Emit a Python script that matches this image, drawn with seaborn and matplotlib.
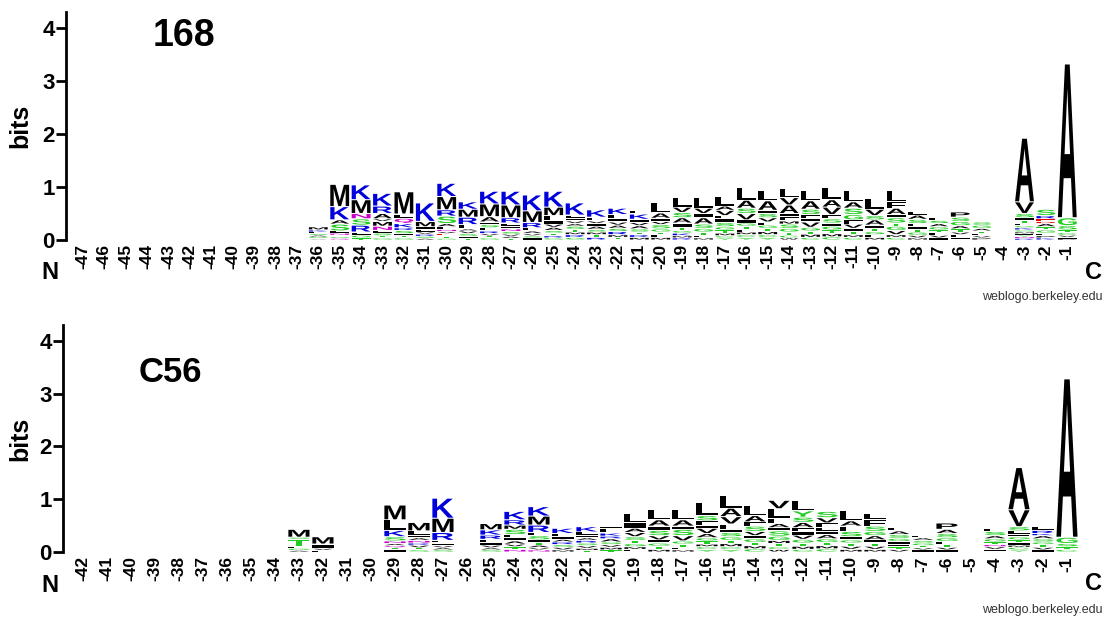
import matplotlib
matplotlib.use("Agg")
import matplotlib.pyplot as plt
import seaborn as sns
from matplotlib.textpath import TextPath
from matplotlib.patches import PathPatch
from matplotlib.font_manager import FontProperties
from matplotlib.transforms import Affine2D

# stacks are written top letter first, "letter + bits"
pos_168 = list(range(-47, 0))
stacks_168 = [""] * 11 + [
    "M.06 K.04 L.03 S.03 A.03 G.03 T.02 V.01",           # -36
    "M.42 K.25 A.08 S.13 L.04 N.04 T.03 G.03 Q.03",      # -35
    "K.28 M.26 N.10 S.12 R.13 L.06 G.05 T.04",           # -34
    "K.24 R.14 A.10 V.05 M.09 N.08 L.05 S.05 T.04 G.04",  # -33
    "M.42 L.08 Q.10 K.08 R.05 S.06 I.04 T.04 G.04",      # -32
    "K.35 M.10 I.05 L.05 V.04 R.04 S.04 A.03",           # -31
    "K.25 M.25 R.12 S.14 A.06 L.05 N.04 V.04 E.03 I.03 T.03 G.03",
    "K.14 M.15 R.14 L.08 A.04 V.05 S.05 I.04 T.03",      # -29
    "K.24 M.24 A.10 I.05 S.06 L.06 R.05 V.04 T.04 G.04",  # -28
    "K.26 M.24 R.10 L.06 I.05 N.05 S.05 V.04 A.04 T.03",  # -27
    "K.30 M.22 R.10 L.06 A.05 V.04 S.04 I.04",           # -26
    "K.30 M.16 L.10 I.06 V.06 A.06 S.05 T.05 R.04 G.04",  # -25
    "K.23 L.06 I.05 V.05 A.05 S.06 T.05 M.05 R.05 G.05",  # -24
    "K.14 L.07 V.05 I.05 A.06 S.05 M.05 T.05 R.05",      # -23
    "K.12 L.08 I.06 V.06 A.06 S.06 R.06 M.05 T.05",      # -22
    "L.06 K.10 I.06 V.06 A.06 S.06 T.05 R.05 M.05",      # -21
    "L.20 A.10 I.06 V.06 S.08 G.06 T.05 F.05 M.05",      # -20
    "L.18 V.10 S.10 A.10 I.08 T.06 G.05 K.05 M.04 R.04",  # -19
    "L.20 V.10 I.08 A.12 S.08 G.07 T.06 F.05 M.04",      # -18
    "L.18 A.08 V.10 F.06 I.07 S.08 G.06 T.06 M.05 C.04 Y.04",
    "L.25 A.15 S.10 V.12 I.06 G.06 T.06 F.05 M.05 C.05 Y.05",
    "L.20 A.18 I.06 S.08 V.08 F.06 G.06 T.06 M.06 C.05 Y.05",
    "L.18 V.14 A.16 I.06 F.08 M.06 S.08 G.07 T.06 C.05 W.04",
    "L.20 A.16 S.10 F.08 I.06 V.10 G.07 T.06 M.06 C.05",  # -13
    "L.24 A.14 V.14 F.08 S.08 I.06 G.07 T.07 M.06 C.06",  # -12
    "L.22 A.12 S.12 G.10 F.08 V.08 I.06 T.06 M.05 C.05",  # -11
    "L.20 V.12 S.08 A.10 I.06 T.06 G.06 F.05 M.05",      # -10
    "L.22 F.12 A.12 I.06 S.10 T.06 G.08 V.08 M.05 C.05",  # -9
    "L.06 A.08 S.08 F.06 I.05 T.05 G.06 V.05 M.04",      # -8
    "L.05 S.06 A.06 G.06 T.05 F.05 V.05 I.04",           # -7
    "P.10 S.08 G.08 A.06 T.06 V.05 L.05 I.05",           # -6
    "S.06 G.06 A.05 T.05 L.04 V.04 P.04",                # -5
    "",                                                  # -4
    "A1.20 V.22 S.08 I.05 T.05 L.05 G.04 K.04 C.04 M.03 F.03 Y.03 N.03 R.03",
    "S.12 R.06 E.05 D.04 A.06 T.06 G.06 L.05 P.04 K.04",  # -2
    "A2.90 G.15 S.08 T.05 C.05 V.04 L.03 P.02",          # -1
]

pos_c56 = list(range(-42, 0))
stacks_c56 = [""] * 9 + [
    "M.15 S.04 T.13 L.04 G.04 A.03",                     # -33
    "M.14 I.08 V.04 L.03",                               # -32
    "", "",                                              # -31, -30
    "M.28 L.20 K.12 S.08 N.05 A.04 Q.04 T.04 I.04",      # -29
    "M.16 L.08 I.05 A.05 N.05 R.04 V.05 T.04 S.04",      # -28
    "K.38 M.27 R.15 L.05 I.05 V.04 A.04 S.04",           # -27
    "",                                                  # -26
    "M.12 K.10 R.08 L.06 I.05 V.05 A.04 S.04",           # -25
    "K.16 R.10 M.08 S.10 L.06 I.06 A.06 V.05 T.05 N.05",  # -24
    "K.18 M.17 R.14 L.06 S.08 I.05 T.05 A.05 V.04 N.04",  # -23
    "K.10 L.06 I.05 A.05 R.05 S.05 V.05 M.04",           # -22
    "K.10 L.06 I.05 A.05 R.05 S.05 V.05 M.04 T.03",      # -21
    "I.05 L.08 K.06 R.05 A.06 S.05 V.05 M.05 T.04",      # -20
    "L.18 I.10 A.08 V.08 S.07 T.06 G.06 M.05 F.05",      # -19
    "L.20 A.12 I.08 S.10 V.08 F.06 G.06 T.06 M.05",      # -18
    "L.20 A.12 I.06 S.12 V.10 G.06 T.06 F.05 M.04",      # -17
    "L.25 S.10 F.08 I.06 V.10 A.08 G.06 T.06 M.05 C.05 Y.05",
    "L.25 A.16 V.14 F.10 I.06 S.08 G.07 T.06 M.06 C.05 Y.05",
    "L.20 A.12 F.08 S.10 V.08 I.06 G.07 T.06 M.06 C.06",  # -14
    "V.16 L.18 F.10 A.08 I.06 S.10 G.08 M.06 T.06 C.05 W.05",
    "L.20 Y.12 S.10 A.10 F.08 I.06 V.08 G.07 T.06 M.06 C.05",
    "S.12 V.10 F.08 L.08 I.06 A.08 G.07 T.06 M.06 C.06",  # -11
    "L.20 A.10 F.10 S.10 I.06 G.06 T.06 V.06 M.05",      # -10
    "L.12 F.12 S.10 G.08 A.08 I.06 T.06 V.06 M.05",      # -9
    "L.06 A.07 S.07 G.06 I.05 F.05 T.05 V.05",           # -8
    "L.04 A.05 S.05 G.05 T.04 V.04 I.04",                # -7
    "P.12 A.08 S.08 G.07 L.06 T.05 V.05 I.04",           # -6
    "",                                                  # -5
    "L.06 S.08 A.06 G.06 T.05 N.04 V.05 I.05",           # -4
    "A.80 V.32 S.08 L.06 F.05 G.06 T.05 I.05 M.04 C.05 Y.04",
    "L.08 R.06 K.04 A.06 S.06 G.05 T.05 V.05 I.04",      # -2
    "A3.00 G.12 S.06 T.05 C.05",                         # -1
]

colors = {}
for c in "KRH":
    colors[c] = "#0000dd"
for c in "DE":
    colors[c] = "#ee0000"
for c in "GSTYC":
    colors[c] = "#22cc22"
for c in "NQ":
    colors[c] = "#cc00cc"
for c in "PAWFLIMV":
    colors[c] = "black"

sns.set_style("ticks")
plt.rcParams["font.family"] = ["Liberation Sans", "DejaVu Sans"]
plt.rcParams.update({"text.color": "black", "axes.labelcolor": "black",
                     "xtick.color": "black", "ytick.color": "black",
                     "axes.edgecolor": "black"})
fp = FontProperties(family="Liberation Sans", weight="bold")

W, H = 1113, 619


def fx(x):
    return x / W


def fy(y):
    return 1 - y / H


def draw_letter(ax, ch, x, y, w, h):
    tp = TextPath((0, 0), ch, size=1, prop=fp)
    ext = tp.get_extents()
    t = (Affine2D().translate(-ext.x0, -ext.y0)
         .scale(w / ext.width, h / ext.height)
         .translate(x - w / 2, y))
    ax.add_patch(PathPatch(t.transform_path(tp), fc=colors[ch], ec="none"))


def draw_logo(ax, positions, stacks, xmin):
    for p, s in zip(positions, stacks):
        if not s:
            continue
        items = [(tok[0], float(tok[1:])) for tok in s.split()]
        y = 0
        for ch, h in reversed(items):
            gap = min(0.02, h * 0.45)  # small letters come out thin, like weblogo
            draw_letter(ax, ch, p, y + gap / 2, 0.88, h - gap)
            y += h
    ax.set_xlim(xmin, -0.5)
    ax.set_ylim(0, 4.3)
    ax.set_yticks([0, 1, 2, 3, 4])
    ax.set_yticklabels(["0", "1", "2", "3", "4"], fontsize=16, fontweight="bold")
    ax.set_xticks(positions)
    ax.set_xticklabels([str(p) for p in positions], rotation=90,
                       fontsize=12.5, fontweight="bold")
    ax.tick_params(axis="x", length=0, pad=3)
    ax.tick_params(axis="y", length=7, width=2, pad=1)
    sns.despine(ax=ax, bottom=True)
    ax.spines["left"].set_linewidth(2)
    ax.set_ylabel("bits", fontsize=18, fontweight="bold")
    ax.patch.set_alpha(0)


fig = plt.figure(figsize=(11.13, 6.19), dpi=100)

ax1 = fig.add_axes([fx(66), fy(240), fx(1078 - 66), (240 - 12) / H])
draw_logo(ax1, pos_168, stacks_168, -47.79)
ax1.yaxis.set_label_coords(-0.033, 0.5)

ax2 = fig.add_axes([fx(63), fy(552), fx(1079 - 63), (552 - 325) / H])
draw_logo(ax2, pos_c56, stacks_c56, -42.83)
ax2.yaxis.set_label_coords(-0.030, 0.5)

fig.text(fx(184), fy(36), "168", fontsize=27, fontweight="bold",
         ha="center", va="center")
fig.text(fx(170), fy(373), "C56", fontsize=25, fontweight="bold",
         ha="center", va="center")

for yc in (272, 585):
    fig.text(fx(50), fy(yc), "N", fontsize=17, fontweight="bold",
             ha="center", va="center")
for yc in (272, 583):
    fig.text(fx(1094), fy(yc), "C", fontsize=17, fontweight="bold",
             ha="center", va="center")
for yc in (297, 610):
    fig.text(fx(1103), fy(yc), "weblogo.berkeley.edu", fontsize=9,
             color="#333333", ha="right", va="center")

fig.savefig("out.png", dpi=100)
